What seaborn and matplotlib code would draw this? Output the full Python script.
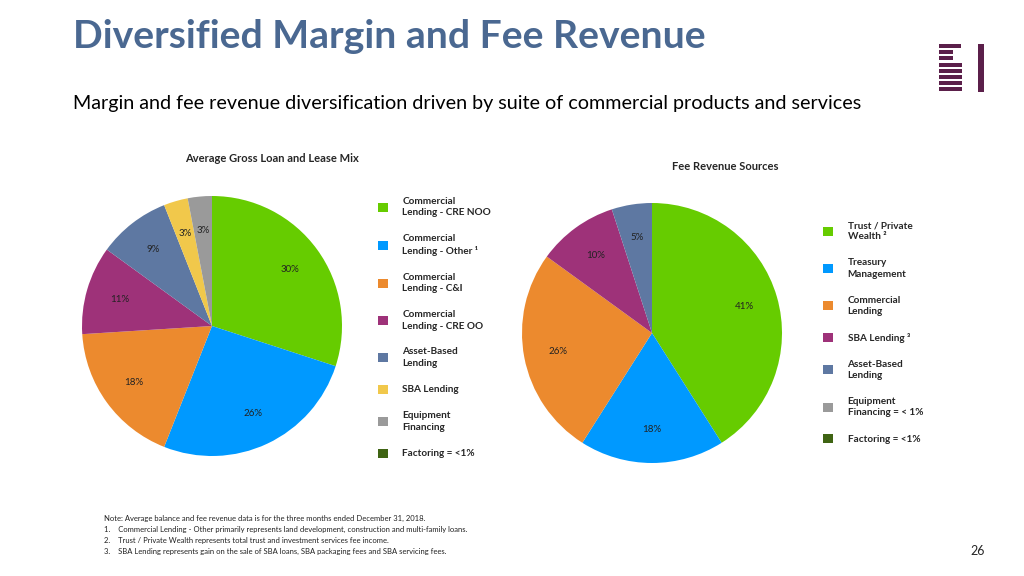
import matplotlib
matplotlib.use("Agg")
import matplotlib.pyplot as plt
import matplotlib.patches as mpatches
import seaborn as sns

# ── Data ──────────────────────────────────────────────────────────────────────
LOAN_LABELS = ["Commercial\nLending - CRE NOO", "Commercial\nLending - Other ¹",
               "Commercial\nLending - C&I", "Commercial\nLending - CRE OO",
               "Asset-Based\nLending", "SBA Lending", "Equipment\nFinancing",
               "Factoring = <1%"]
LOAN_VALUES = [30, 26, 18, 11, 9, 3, 3]

FEE_LABELS = ["Trust / Private\nWealth ²", "Treasury\nManagement",
              "Commercial\nLending", "SBA Lending ³", "Asset-Based\nLending",
              "Equipment\nFinancing = < 1%", "Factoring = <1%"]
FEE_VALUES = [41, 18, 26, 10, 5]

NOTES = [
    "Note: Average balance and fee revenue data is for the three months ended December 31, 2018.",
    "1.    Commercial Lending - Other primarily represents land development, construction and multi-family loans.",
    "2.    Trust / Private Wealth represents total trust and investment services fee income.",
    "3.    SBA Lending represents gain on the sale of SBA loans, SBA packaging fees and SBA servicing fees.",
]

# ── Palette ───────────────────────────────────────────────────────────────────
GREEN, BLUE, ORANGE, PURPLE = "#66CC00", "#0099FF", "#EC8A2E", "#9E3279"
SLATE, YELLOW, GRAY, DKGREEN = "#5E78A2", "#F1C84B", "#9A9A9A", "#3F6413"
LOAN_COLORS = [GREEN, BLUE, ORANGE, PURPLE, SLATE, YELLOW, GRAY, DKGREEN]
FEE_COLORS = [GREEN, BLUE, ORANGE, PURPLE, SLATE, GRAY, DKGREEN]
TITLE_COLOR = "#4A6891"
TEXT_COLOR = "#000000"
LOGO_COLOR = "#5B1F4A"

sns.set_theme(style="white")
plt.rcParams["font.family"] = ["Lato", "DejaVu Sans"]

fig = plt.figure(figsize=(10.24, 5.76), dpi=100)
fig.patch.set_facecolor("white")


def draw_pie(rect, values, colors):
    ax = fig.add_axes(rect)
    ax.pie(values, colors=colors[:len(values)], startangle=90, counterclock=False,
           autopct="%1.0f%%", pctdistance=0.74,
           wedgeprops={"linewidth": 0},
           textprops={"fontsize": 7, "color": "#222222"})
    ax.set_xlim(-1, 1)
    ax.set_ylim(-1, 1)
    ax.set_aspect("equal")
    ax.axis("off")
    return ax


draw_pie([82 / 1024, 120 / 576, 260 / 1024, 260 / 576], LOAN_VALUES, LOAN_COLORS)
draw_pie([522 / 1024, 113 / 576, 260 / 1024, 260 / 576], FEE_VALUES, FEE_COLORS)


def add_legend(labels, colors, x, y):
    handles = [mpatches.Patch(facecolor=c, edgecolor="none") for c in colors]
    leg = fig.legend(handles, labels, loc="upper left", bbox_to_anchor=(x, y),
                     frameon=False, prop={"weight": "bold", "size": 7.2},
                     handlelength=1.0, handleheight=1.0, handletextpad=1.45,
                     labelspacing=1.68, borderaxespad=0, borderpad=0)
    for t in leg.get_texts():
        t.set_linespacing(1.35)
    return leg


add_legend(LOAN_LABELS, LOAN_COLORS, 378 / 1024, 1 - 197 / 576)
add_legend(FEE_LABELS, FEE_COLORS, 823 / 1024, 1 - 221 / 576)

# ── Titles & texts ────────────────────────────────────────────────────────────
fig.text(73 / 1024, 1 - 36 / 576, "Diversified Margin and Fee Revenue",
         fontsize=28.2, fontweight="bold", color=TITLE_COLOR, va="center")
fig.text(73 / 1024, 1 - 103 / 576,
         "Margin and fee revenue diversification driven by suite of commercial products and services",
         fontsize=14.2, color=TEXT_COLOR, va="center")
fig.text(272 / 1024, 1 - 158 / 576, "Average Gross Loan and Lease Mix",
         fontsize=8, fontweight="bold", ha="center", va="center")
fig.text(725 / 1024, 1 - 166 / 576, "Fee Revenue Sources",
         fontsize=8, fontweight="bold", ha="center", va="center")

for i, note in enumerate(NOTES):
    fig.text(104 / 1024, 1 - (518 + 11.3 * i) / 576, note,
             fontsize=5.5, color="#222222", va="center")
fig.text(985 / 1024, 1 - 551 / 576, "26", fontsize=9, ha="right", va="center")

# ── Logo ──────────────────────────────────────────────────────────────────────
bar_widths = [22, 14, 14, 23, 23, 23, 23, 23]
for i, w in enumerate(bar_widths):
    y0 = 44 + i * 6.2
    fig.add_artist(mpatches.Rectangle(
        (939 / 1024, 1 - (y0 + 4) / 576), w / 1024, 4 / 576,
        transform=fig.transFigure, facecolor=LOGO_COLOR, edgecolor="none"))
fig.add_artist(mpatches.Rectangle(
    (978 / 1024, 1 - 92 / 576), 6 / 1024, 48 / 576,
    transform=fig.transFigure, facecolor=LOGO_COLOR, edgecolor="none"))

fig.savefig("out.png", dpi=100, facecolor="white")
